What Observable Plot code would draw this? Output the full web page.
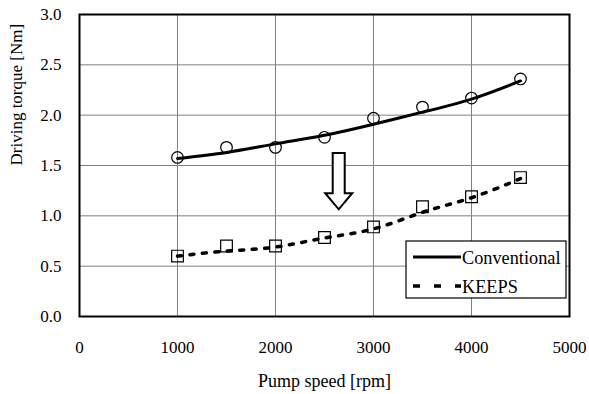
<!DOCTYPE html>
<html>
<head>
<meta charset="utf-8">
<script src="https://cdn.jsdelivr.net/npm/d3@7"></script>
<script src="https://cdn.jsdelivr.net/npm/@observablehq/plot@0.6"></script>
<style>
  html, body { margin: 0; padding: 0; background: #fff; }
  #chart svg { display: block; }
  #chart svg, #chart svg text { font-family: "Liberation Serif", "Times New Roman", serif !important; }
</style>
</head>
<body>
<div id="chart"></div>
<script>
// ---- data ----
const speeds = [1000, 1500, 2000, 2500, 3000, 3500, 4000, 4500];
const conventional = [1.58, 1.68, 1.68, 1.78, 1.97, 2.08, 2.17, 2.36];
const keeps = [0.60, 0.70, 0.70, 0.785, 0.89, 1.09, 1.19, 1.38];
const conventionalFit = [1.57, 1.63, 1.715, 1.80, 1.91, 2.03, 2.16, 2.34];
const keepsFit = [0.60, 0.65, 0.69, 0.78, 0.87, 1.035, 1.18, 1.37];
const xTicks = [0, 1000, 2000, 3000, 4000, 5000];
const yTicks = [0, 0.5, 1.0, 1.5, 2.0, 2.5, 3.0];
const seriesNames = ["Conventional", "KEEPS"];
const xLabel = "Pump speed [rpm]";
const yLabel = "Driving torque [Nm]";
// arrow annotation (data units)
const arrowX = [2650];
const arrowTop = [1.62];
const arrowNeck = [1.22];
const arrowTip = [1.06];

const convPts = speeds.map((s, i) => ({x: s, y: conventional[i]}));
const keepsPts = speeds.map((s, i) => ({x: s, y: keeps[i]}));
const convFitPts = speeds.map((s, i) => ({x: s, y: conventionalFit[i]}));
const keepsFitPts = speeds.map((s, i) => ({x: s, y: keepsFit[i]}));

const FONT = "Liberation Serif, Times New Roman, serif";

// hollow block arrow drawn through the scales
function arrowMark(index, scales) {
  const g = d3.create("svg:g");
  const cx = scales.x(arrowX[0]);
  const y0 = scales.y(arrowTop[0]);
  const y1 = scales.y(arrowNeck[0]);
  const y2 = scales.y(arrowTip[0]);
  const sw = 6, hw = 13.5;
  const pts = [[cx - sw, y0], [cx + sw, y0], [cx + sw, y1], [cx + hw, y1], [cx, y2], [cx - hw, y1], [cx - sw, y1]];
  g.append("polygon")
    .attr("points", pts.map(p => p.join(",")).join(" "))
    .attr("fill", "white").attr("stroke", "black").attr("stroke-width", 2)
    .attr("stroke-linejoin", "miter");
  return g.node();
}

// legend box
function legendMark(index, scales, values, dims) {
  const g = d3.create("svg:g").attr("font-size", 18.3).attr("text-anchor", "start");
  const x0 = 406, y0 = 241, w = 160, h = 57;
  g.append("rect").attr("x", x0).attr("y", y0).attr("width", w).attr("height", h)
    .attr("fill", "white").attr("stroke", "black").attr("stroke-width", 1.2);
  g.append("line").attr("x1", 413).attr("x2", 461).attr("y1", 257).attr("y2", 257)
    .attr("stroke", "black").attr("stroke-width", 3);
  g.append("line").attr("x1", 413).attr("x2", 461).attr("y1", 286).attr("y2", 286)
    .attr("stroke", "black").attr("stroke-width", 3.5).attr("stroke-dasharray", "7,14");
  g.append("text").attr("x", 462).attr("y", 263.5).attr("text-anchor", "start").text(seriesNames[0]);
  g.append("text").attr("x", 462).attr("y", 292.5).attr("text-anchor", "start").text(seriesNames[1]);
  return g.node();
}

const chart = Plot.plot({
  width: 589,
  height: 394,
  marginLeft: 79,
  marginRight: 20,
  marginTop: 14,
  marginBottom: 78,
  style: {fontFamily: FONT, fontSize: "17px", color: "black", background: "white"},
  x: {domain: [0, 5000]},
  y: {domain: [0, 3]},
  marks: [
    Plot.gridX(xTicks.slice(1, -1), {stroke: "#808080", strokeOpacity: 1, strokeWidth: 1}),
    Plot.gridY(yTicks.slice(1, -1), {stroke: "#808080", strokeOpacity: 1, strokeWidth: 1}),
    Plot.axisX({ticks: xTicks, tickSize: 0, tickPadding: 24, label: null, tickFormat: d3.format("d"), fontSize: 17}),
    Plot.axisY({ticks: yTicks, tickSize: 0, tickPadding: 18, label: null, tickFormat: d3.format(".1f"), fontSize: 17}),
    Plot.text([xLabel], {frameAnchor: "bottom", dy: 65, lineAnchor: "middle", fontSize: 18}),
    Plot.text([yLabel], {frameAnchor: "left", dx: -63, rotate: -90, lineAnchor: "middle", fontSize: 17}),
    Plot.line(convFitPts, {x: "x", y: "y", curve: "natural", stroke: "black", strokeWidth: 3}),
    Plot.line(keepsFitPts, {x: "x", y: "y", curve: "natural", stroke: "black", strokeWidth: 3.5, strokeDasharray: "4,8.5"}),
    Plot.dot(convPts, {x: "x", y: "y", symbol: "circle", r: 5.8, stroke: "black", strokeWidth: 1.2, fill: "none"}),
    Plot.dot(keepsPts, {x: "x", y: "y", symbol: "square", r: 6.6, stroke: "black", strokeWidth: 1.2, fill: "none"}),
    arrowMark,
    legendMark,
    Plot.frame({stroke: "black", strokeWidth: 2})
  ]
});
document.getElementById("chart").append(chart);
</script>
</body>
</html>
